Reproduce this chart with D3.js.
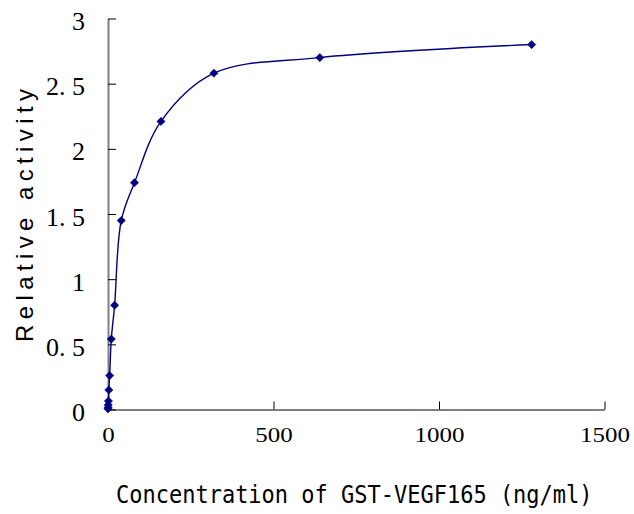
<!DOCTYPE html>
<html>
<head>
<meta charset="utf-8">
<script src="https://cdn.jsdelivr.net/npm/d3@7"></script>
<style>
  html, body { margin: 0; padding: 0; background: #ffffff; }
  svg { display: block; }
</style>
</head>
<body>
<svg id="chart" width="634" height="514"></svg>
<script>
// ---- data ----
const concentration = [0, 0.3125, 0.625, 1.25, 2.5, 5, 10, 20, 40, 80, 160, 320, 640, 1280];
const activity      = [0.005, 0.015, 0.035, 0.065, 0.15, 0.26, 0.54, 0.80, 1.45, 1.74, 2.21, 2.58, 2.70, 2.80];
const xTicks = [0, 500, 1000, 1500];
const yTicks = [0, 0.5, 1, 1.5, 2, 2.5, 3];
const yTickLabels = ["0", "0. 5", "1", "1. 5", "2", "2. 5", "3"];
const xTitle = "Concentration of GST-VEGF165 (ng/ml)";
const yTitle = "Relative activity";

const svg = d3.select("#chart");
const x = d3.scaleLinear().domain([0, 1500]).range([108, 604.5]);
const y = d3.scaleLinear().domain([0, 3]).range([409.5, 18.5]);

const navy = "#000080";

// Y axis
const yAxis = d3.axisLeft(y)
  .tickValues(yTicks)
  .tickFormat((d, i) => yTickLabels[i])
  .tickSizeInner(-8)
  .tickSizeOuter(0)
  .tickPadding(23);
const gy = svg.append("g").attr("transform", `translate(${x(0)},0)`).call(yAxis);
gy.select(".domain").attr("stroke", "#808080").attr("stroke-width", 2);
gy.selectAll(".tick line").attr("stroke", "#000").attr("stroke-width", 1);
gy.selectAll(".tick text")
  .attr("dy", "11px")
  .attr("fill", "#000")
  .style("font-family", "'Liberation Serif', 'DejaVu Serif', serif")
  .style("font-size", "26px");

// X axis
const xAxis = d3.axisBottom(x)
  .tickValues(xTicks)
  .tickFormat(d3.format("d"))
  .tickSizeInner(-8)
  .tickSizeOuter(0);
const gx = svg.append("g").attr("transform", `translate(0,${y(0)})`).call(xAxis);
gx.select(".domain").attr("stroke", "#000").attr("stroke-width", 1);
gx.selectAll(".tick line").attr("stroke", "#000").attr("stroke-width", 1);
gx.selectAll(".tick text")
  .attr("y", 0)
  .attr("dy", "33px")
  .attr("transform", "scale(1.25,1)")
  .attr("fill", "#000")
  .style("font-family", "'Liberation Serif', 'DejaVu Serif', serif")
  .style("font-size", "20px");

// line
const pts = concentration.map((c, i) => [c, activity[i]]);
const line = d3.line()
  .x(d => x(d[0]))
  .y(d => y(d[1]))
  .curve(d3.curveCatmullRom.alpha(0.5));
svg.append("path")
  .datum(pts)
  .attr("d", line)
  .attr("fill", "none")
  .attr("stroke", navy)
  .attr("stroke-width", 1.4);

// markers (diamonds)
const sym = d3.symbol().type(d3.symbolSquare).size(34);
svg.append("g").selectAll("path")
  .data(pts)
  .join("path")
  .attr("d", sym)
  .attr("transform", d => `translate(${x(d[0])},${y(d[1])}) rotate(45)`)
  .attr("fill", navy)
  .attr("stroke", navy)
  .attr("stroke-width", 0.5);

// axis titles
svg.append("text")
  .attr("transform", "translate(116,503) scale(1,1.12)")
  .style("font-family", "'DejaVu Sans Mono', 'Liberation Mono', monospace")
  .style("font-size", "22px")
  .attr("fill", "#000")
  .text(xTitle);

svg.append("text")
  .attr("transform", "translate(33,342) rotate(-90)")
  .attr("x", 0)
  .attr("y", 0)
  .attr("textLength", 253)
  .attr("lengthAdjust", "spacing")
  .style("font-family", "'Liberation Sans', Arial, sans-serif")
  .style("font-size", "24px")
  .attr("fill", "#000")
  .text(yTitle);
</script>
</body>
</html>
